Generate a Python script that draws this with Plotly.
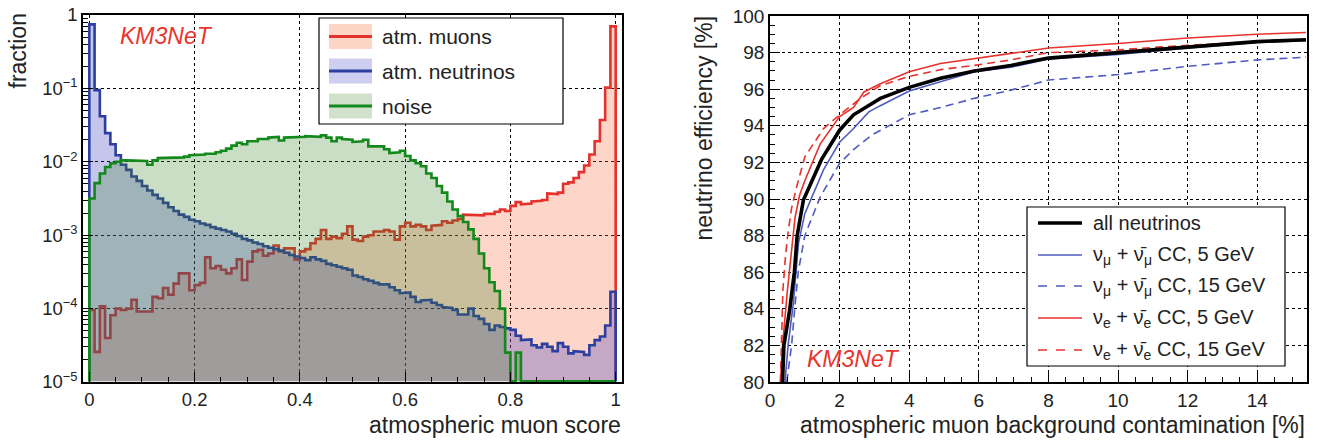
import plotly.graph_objects as go

W, H = 1318, 440
FONT = "Liberation Sans, Arial, sans-serif"

# ---------------- left panel data: 100 bins of width 0.01 on [0, 1] ----------------
bin_edges = [i / 100 for i in range(101)]

# log10(fraction) per bin
muons_log10 = [
    -4.02, -4.59, -3.97, -4.40, -4.09, -4.00, -4.02, -4.00, -3.88, -4.04,
    -4.04, -4.04, -3.84, -3.86, -3.72, -3.81, -3.66, -3.52, -3.52, -3.75,
    -3.68, -3.65, -3.30, -3.45, -3.42, -3.47, -3.52, -3.45, -3.33, -3.61,
    -3.36, -3.22, -3.20, -3.28, -3.25, -3.14, -3.22, -3.18, -3.18, -3.33,
    -3.22, -3.19, -3.11, -3.05, -2.93, -3.05, -3.02, -3.04, -2.98, -2.88,
    -3.06, -3.08, -3.02, -3.00, -2.95, -2.95, -2.93, -2.95, -3.06, -2.88,
    -2.83, -2.88, -2.86, -2.88, -2.93, -2.87, -2.86, -2.81, -2.83, -2.80,
    -2.78, -2.72, -2.72, -2.73, -2.73, -2.71, -2.71, -2.68, -2.65, -2.67,
    -2.60, -2.55, -2.58, -2.57, -2.54, -2.53, -2.52, -2.43, -2.44, -2.42,
    -2.30, -2.28, -2.22, -2.14, -2.05, -1.90, -1.72, -1.43, -0.99, -0.155,
]

neutrinos_log10 = [
    -0.128, -1.023, -1.38, -1.61, -1.76, -1.91, -2.04, -2.11, -2.20, -2.26,
    -2.33, -2.39, -2.45, -2.50, -2.56, -2.62, -2.67, -2.72, -2.75, -2.79,
    -2.81, -2.84, -2.86, -2.89, -2.91, -2.93, -2.95, -2.98, -3.01, -3.05,
    -3.07, -3.10, -3.12, -3.15, -3.17, -3.19, -3.21, -3.24, -3.27, -3.29,
    -3.31, -3.34, -3.30, -3.33, -3.35, -3.39, -3.41, -3.43, -3.45, -3.47,
    -3.55, -3.57, -3.60, -3.62, -3.65, -3.67, -3.67, -3.71, -3.75, -3.79,
    -3.78, -3.84, -3.91, -3.89, -3.88, -3.92, -3.95, -3.98, -3.99, -4.02,
    -4.08, -4.08, -4.00, -4.10, -4.14, -4.21, -4.29, -4.23, -4.25, -4.27,
    -4.29, -4.37, -4.43, -4.42, -4.50, -4.53, -4.48, -4.52, -4.58, -4.47,
    -4.52, -4.61, -4.58, -4.59, -4.63, -4.50, -4.43, -4.38, -4.23, -3.77,
]

# None = empty bin
noise_log10 = [
    -2.50, -2.29, -2.16, -2.07, -2.02, -2.00, -1.98, -1.98, -1.98, -1.99,
    -1.99, -2.04, -1.98, -1.95, -1.95, -1.94, -1.95, -1.94, -1.93, -1.91,
    -1.90, -1.90, -1.89, -1.89, -1.87, -1.85, -1.82, -1.78, -1.74, -1.76,
    -1.72, -1.72, -1.69, -1.69, -1.67, -1.66, -1.71, -1.67, -1.66, -1.66,
    -1.66, -1.65, -1.65, -1.66, -1.64, -1.67, -1.72, -1.67, -1.69, -1.70,
    -1.73, -1.72, -1.70, -1.79, -1.80, -1.79, -1.83, -1.88, -1.87, -1.85,
    -1.92, -1.98, -2.02, -2.06, -2.16, -2.22, -2.33, -2.42, -2.54, -2.65,
    -2.74, -2.82, -2.92, -3.05, -3.25, -3.45, -3.64, -3.76, -4.00, -4.60,
    None, -4.60, None, None, None, None, None, None, None, None,
    None, None, None, None, None, None, None, None, None, None,
]

hist_names = ["atm. muons", "atm. neutrinos", "noise"]
y_tickvals = [1e-5, 1e-4, 1e-3, 1e-2, 1e-1, 1]
y_ticktext = ["10<sup>\u22125</sup>", "10<sup>\u22124</sup>", "10<sup>\u22123</sup>",
              "10<sup>\u22122</sup>", "10<sup>\u22121</sup>", "1"]
x1_tickvals = [0, 0.2, 0.4, 0.6, 0.8, 1.0]
x1_ticktext = ["0", "0.2", "0.4", "0.6", "0.8", "1"]

# ---------------- right panel data ----------------
all_nu_x = [0.36, 0.40, 0.57, 0.70, 0.78, 0.86, 0.96, 1.49, 2.0, 2.4, 2.84, 3.17, 4.0, 4.9, 5.87, 6.92, 8.0, 10.0, 12.0, 14.0, 15.4]
all_nu_y = [80.0, 82.0, 84.0, 86.0, 88.0, 89.0, 89.95, 92.2, 93.76, 94.6, 95.1, 95.5, 96.1, 96.6, 97.0, 97.3, 97.7, 97.98, 98.3, 98.6, 98.7]

numu5_x = [0.43, 0.52, 0.67, 0.82, 1.0, 1.54, 2.0, 2.4, 2.84, 3.17, 4.0, 4.9, 5.87, 6.92, 8.0, 10.0, 12.0, 14.0, 15.4]
numu5_y = [80.0, 82.0, 84.3, 87.6, 89.2, 91.6, 93.1, 93.85, 94.76, 95.1, 95.9, 96.4, 96.95, 97.2, 97.65, 97.9, 98.25, 98.55, 98.65]

numu15_x = [0.48, 0.62, 0.71, 0.81, 1.0, 1.19, 1.44, 2.0, 2.4, 2.93, 4.0, 4.9, 5.87, 6.92, 8.0, 10.0, 12.0, 14.0, 15.4]
numu15_y = [80.0, 82.0, 84.0, 86.0, 88.0, 88.9, 90.1, 91.95, 92.7, 93.5, 94.6, 95.0, 95.5, 95.95, 96.5, 96.8, 97.25, 97.6, 97.75]

nue5_x = [0.30, 0.36, 0.50, 0.62, 0.72, 0.85, 1.0, 1.44, 2.0, 2.4, 2.7, 3.17, 4.0, 4.9, 5.87, 6.92, 8.0, 10.0, 12.0, 14.0, 15.4]
nue5_y = [80.0, 82.0, 85.0, 87.3, 89.0, 90.2, 91.0, 93.0, 94.5, 95.0, 95.85, 96.3, 96.95, 97.4, 97.67, 97.95, 98.25, 98.5, 98.8, 99.0, 99.1]

nue15_x = [0.30, 0.33, 0.37, 0.45, 0.52, 0.62, 0.77, 1.0, 1.54, 2.0, 2.6, 3.17, 4.0, 4.9, 5.87, 6.92, 8.0, 10.0, 12.0, 14.0, 15.4]
nue15_y = [80.0, 82.0, 85.0, 87.0, 88.2, 89.5, 90.7, 92.3, 93.85, 94.6, 95.5, 96.2, 96.7, 97.07, 97.3, 97.6, 98.0, 98.15, 98.4, 98.6, 98.7]

curve_names = [
    "all neutrinos",
    "\u03bd<sub>\u03bc</sub> + \u03bd\u0304<sub>\u03bc</sub> CC, 5 GeV",
    "\u03bd<sub>\u03bc</sub> + \u03bd\u0304<sub>\u03bc</sub> CC, 15 GeV",
    "\u03bd<sub>e</sub> + \u03bd\u0304<sub>e</sub> CC, 5 GeV",
    "\u03bd<sub>e</sub> + \u03bd\u0304<sub>e</sub> CC, 15 GeV",
]

# ---------------- styles ----------------
RED = "#e4312b"
BLUE = "#2c3f9e"
GREEN = "#12891a"
RED_FILL = "rgba(250,90,40,0.25)"
BLUE_FILL = "rgba(50,50,190,0.28)"
GREEN_FILL = "rgba(60,130,40,0.27)"
RED_SW = "rgb(253,213,199)"
BLUE_SW = "rgb(206,206,241)"
GREEN_SW = "rgb(209,226,204)"
C_BLUE = "#4f5bbf"
C_RED = "#e8322c"

FLOOR = 10 ** -4.99


def step_path(logvals):
    xs, ys = [bin_edges[0]], [FLOOR]
    for i, v in enumerate(logvals):
        val = 0.0 if v is None else 10 ** v
        val = max(val, FLOOR)
        xs += [bin_edges[i], bin_edges[i + 1]]
        ys += [val, val]
    xs.append(bin_edges[-1])
    ys.append(FLOOR)
    return xs, ys


fig = go.Figure()

for name, vals, lc, fc in [
    (hist_names[0], muons_log10, RED, RED_FILL),
    (hist_names[1], neutrinos_log10, BLUE, BLUE_FILL),
    (hist_names[2], noise_log10, GREEN, GREEN_FILL),
]:
    xs, ys = step_path(vals)
    fig.add_trace(go.Scatter(x=xs, y=ys, mode="lines", name=name, fill="toself",
                             fillcolor=fc, line=dict(color=lc, width=2.6),
                             xaxis="x", yaxis="y", showlegend=False))

for name, xs, ys, col, w, dash in [
    (curve_names[2], numu15_x, numu15_y, C_BLUE, 1.6, "8px,5px"),
    (curve_names[1], numu5_x, numu5_y, C_BLUE, 1.6, "solid"),
    (curve_names[4], nue15_x, nue15_y, C_RED, 1.6, "8px,5px"),
    (curve_names[3], nue5_x, nue5_y, C_RED, 1.6, "solid"),
    (curve_names[0], all_nu_x, all_nu_y, "black", 3.6, "solid"),
]:
    fig.add_trace(go.Scatter(x=xs, y=ys, mode="lines", name=name,
                             line=dict(color=col, width=w, dash=dash),
                             xaxis="x2", yaxis="y2", showlegend=False))


def px(x):
    return x / W


def py(y):
    return 1 - y / H


def axis_common(size):
    return dict(
        showline=True, linecolor="black", linewidth=1.5, mirror=True,
        ticks="inside", tickcolor="black", tickwidth=1, ticklen=10,
        showgrid=True, gridcolor="black", griddash="dot", gridwidth=1,
        zeroline=False, automargin=False,
        tickfont=dict(family=FONT, size=size, color="#222"),
    )


minor_log = [k * 10 ** e for e in range(-5, 0) for k in range(2, 10)]

fig.update_layout(
    width=W, height=H, margin=dict(l=0, r=0, t=0, b=0, pad=0, autoexpand=False),
    paper_bgcolor="white", plot_bgcolor="white", showlegend=False,
    font=dict(family=FONT, color="#222"),
    xaxis=dict(domain=[px(83), px(622)], range=[-0.012, 1.012],
               tickmode="array", tickvals=x1_tickvals, ticktext=x1_ticktext,
               minor=dict(tickvals=[0.05, 0.1, 0.15, 0.25, 0.3, 0.35, 0.45, 0.5, 0.55,
                                    0.65, 0.7, 0.75, 0.85, 0.9, 0.95],
                          ticks="inside", ticklen=5, tickcolor="black", showgrid=False),
               anchor="y", **axis_common(18.5)),
    yaxis=dict(domain=[py(382), py(15)], type="log", range=[-5, 0],
               tickmode="array", tickvals=y_tickvals, ticktext=y_ticktext,
               minor=dict(tickvals=minor_log, ticks="inside", ticklen=5,
                          tickcolor="black", showgrid=False),
               anchor="x", **axis_common(18.5)),
    xaxis2=dict(domain=[px(770), px(1307)], range=[0, 15.43],
                tickmode="linear", tick0=0, dtick=2,
                minor=dict(dtick=0.5, ticks="inside", ticklen=5, tickcolor="black", showgrid=False),
                anchor="y2", **axis_common(19)),
    yaxis2=dict(domain=[py(382), py(16)], range=[80, 100],
                tickmode="linear", tick0=80, dtick=2,
                minor=dict(dtick=0.5, ticks="inside", ticklen=5, tickcolor="black", showgrid=False),
                anchor="x2", **axis_common(19)),
)

shapes = []
annotations = []

# left legend
shapes.append(dict(type="rect", xref="paper", yref="paper", x0=px(319), x1=px(563),
                   y0=py(124), y1=py(18), line=dict(color="black", width=1.2),
                   fillcolor="white", layer="above"))
for yc, sw, lc, name in [(36.5, RED_SW, RED, hist_names[0]),
                         (71, BLUE_SW, BLUE, hist_names[1]),
                         (106, GREEN_SW, GREEN, hist_names[2])]:
    shapes.append(dict(type="rect", xref="paper", yref="paper", x0=px(329), x1=px(372),
                       y0=py(yc + 12.5), y1=py(yc - 12.5), line=dict(width=0),
                       fillcolor=sw, layer="above"))
    shapes.append(dict(type="line", xref="paper", yref="paper", x0=px(329), x1=px(372),
                       y0=py(yc), y1=py(yc), line=dict(color=lc, width=3), layer="above"))
    annotations.append(dict(text=name, xref="paper", yref="paper", x=px(380), y=py(yc),
                            xanchor="left", yanchor="middle", showarrow=False,
                            font=dict(family=FONT, size=21, color="#222")))

# right legend
shapes.append(dict(type="rect", xref="paper", yref="paper", x0=px(1027), x1=px(1285),
                   y0=py(366), y1=py(207), line=dict(color="black", width=1.2),
                   fillcolor="white", layer="above"))
for yc, col, w, dash, name in [(223, "black", 3.6, "solid", curve_names[0]),
                               (255, C_BLUE, 1.6, "solid", curve_names[1]),
                               (286, C_BLUE, 1.6, "dash", curve_names[2]),
                               (318, C_RED, 1.6, "solid", curve_names[3]),
                               (350, C_RED, 1.6, "dash", curve_names[4])]:
    shapes.append(dict(type="line", xref="paper", yref="paper", x0=px(1038), x1=px(1082),
                       y0=py(yc), y1=py(yc), line=dict(color=col, width=w, dash=dash),
                       layer="above"))
    annotations.append(dict(text=name, xref="paper", yref="paper", x=px(1091), y=py(yc),
                            xanchor="left", yanchor="middle", showarrow=False,
                            font=dict(family=FONT, size=20, color="#222")))

# titles and labels
annotations += [
    dict(text="fraction", xref="paper", yref="paper", x=px(18), y=py(12), textangle=-90,
         xanchor="center", yanchor="top", showarrow=False,
         font=dict(family=FONT, size=23, color="#222")),
    dict(text="atmospheric muon score", xref="paper", yref="paper", x=px(623), y=py(425),
         xanchor="right", yanchor="middle", showarrow=False,
         font=dict(family=FONT, size=23, color="#222")),
    dict(text="neutrino efficiency [%]", xref="paper", yref="paper", x=px(703), y=py(14),
         textangle=-90, xanchor="center", yanchor="top", showarrow=False,
         font=dict(family=FONT, size=23, color="#222")),
    dict(text="atmospheric muon background contamination [%]", xref="paper", yref="paper",
         x=px(1307), y=py(425), xanchor="right", yanchor="middle", showarrow=False,
         font=dict(family=FONT, size=23, color="#222")),
    dict(text="<i>KM3NeT</i>", xref="paper", yref="paper", x=px(166), y=py(36),
         xanchor="center", yanchor="middle", showarrow=False,
         font=dict(family=FONT, size=23, color="#e8352d")),
    dict(text="<i>KM3NeT</i>", xref="paper", yref="paper", x=px(854), y=py(359),
         xanchor="center", yanchor="middle", showarrow=False,
         font=dict(family=FONT, size=23, color="#e8352d")),
]

fig.update_layout(shapes=shapes, annotations=annotations)
fig.write_html("out.html", config={"displayModeBar": False},
               post_script="document.body.style.margin='0';document.body.style.overflow='hidden';")
